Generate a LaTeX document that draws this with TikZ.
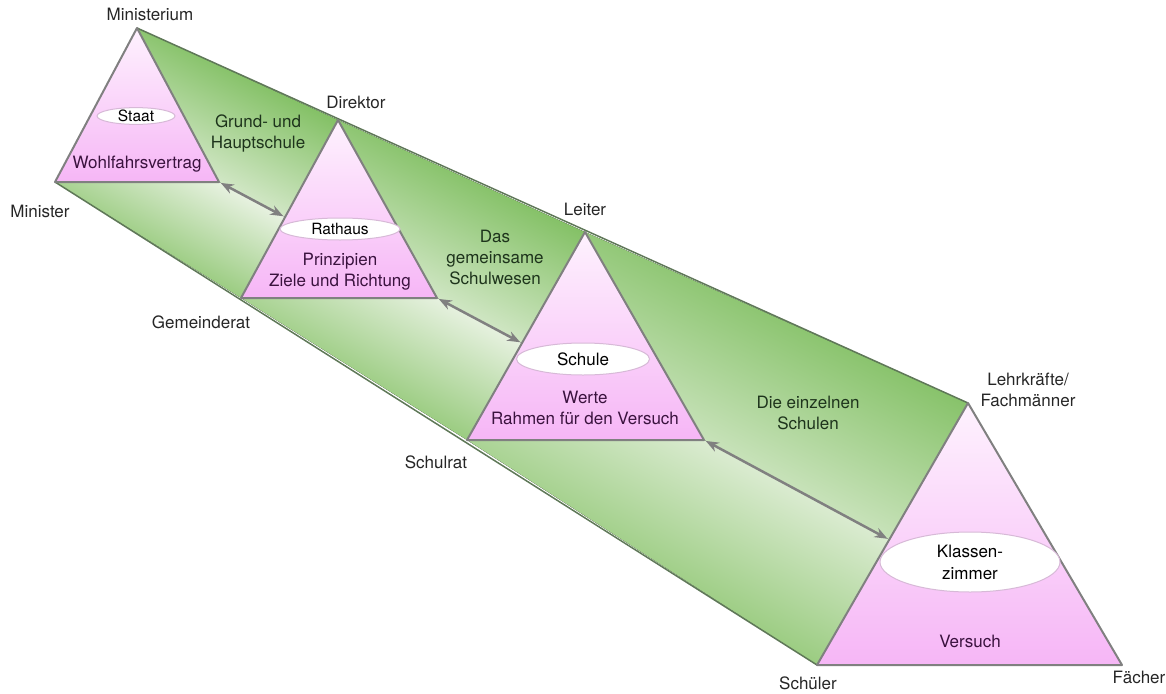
\documentclass[tikz,border=0pt]{standalone}
\usepackage{fontspec}
\setmainfont{TeX Gyre Heros}
\usetikzlibrary{arrows.meta,shapes.geometric}
\definecolor{banddark}{RGB}{98,176,60}
\definecolor{bandlight}{RGB}{234,243,228}
\definecolor{lowdark}{RGB}{106,180,68}
\definecolor{edgegreen}{RGB}{95,120,88}
\definecolor{pinktop}{RGB}{254,242,254}
\definecolor{pinkbot}{RGB}{246,182,246}
\definecolor{ovalline}{RGB}{215,185,215}
\definecolor{greentext}{RGB}{30,52,28}
\definecolor{pinktext}{RGB}{58,18,62}
\begin{document}
\begin{tikzpicture}[x=1pt,y=-1pt,>={Stealth[length=13pt,width=10pt]},
  upper/.style={top color=banddark,bottom color=bandlight,shading angle=-28},
  lower/.style={top color=bandlight,bottom color=lowdark,shading angle=-28},
  tri/.style={draw=gray,line width=2pt,line join=round,top color=pinktop,bottom color=pinkbot},
  oval/.style={ellipse,draw=ovalline,line width=1pt,fill=white,inner sep=0pt},
  lbl/.style={font=\fontsize{17}{21}\selectfont,text=black!85,align=center},
  bandtxt/.style={lbl,text=greentext},
  tritxt/.style={lbl,text=pinktext},
  link/.style={<->,draw=gray,line width=2.5pt,shorten <=2pt,shorten >=2pt}]
  \useasboundingbox (0,0) rectangle (1166,693);
  % corners: apex, base left, base right
  \coordinate (A1) at (137,28);  \coordinate (L1) at (55,182);  \coordinate (R1) at (219,182);
  \coordinate (A2) at (338,120); \coordinate (L2) at (241,298); \coordinate (R2) at (437,298);
  \coordinate (A3) at (585,232); \coordinate (L3) at (467,440); \coordinate (R3) at (704,440);
  \coordinate (A4) at (968,403); \coordinate (L4) at (817,665); \coordinate (R4) at (1122,665);
  % where the base line meets the next triangle
  \coordinate (P2) at (intersection of R1--R2 and A2--L2);
  \coordinate (P3) at (intersection of R2--R3 and A3--L3);
  \coordinate (P4) at (intersection of R3--R4 and A4--L4);
  % green bands between the triangles
  \foreach \i/\j in {1/2,2/3,3/4} {
    \fill [upper] (A\i) -- (A\j) -- (P\j) -- (R\i) -- cycle;
    \fill [lower] (R\i) -- (P\j) -- (L\j) -- (L\i) -- cycle;
  }
  \draw [edgegreen,line width=1.5pt] (A1) -- (A4);
  \draw [edgegreen,line width=1.5pt] (L1) -- (L4);
  \foreach \i in {1,...,4}
    \draw [tri] (A\i) -- (R\i) -- (L\i) -- cycle;
  % links
  \draw [link] (R1) -- (P2);
  \draw [link] (R2) -- (P3);
  \draw [link] (R3) -- (P4);
  % ovals and texts in the triangles
  \node [oval,minimum width=78,minimum height=16,font=\fontsize{15.5}{18}\selectfont] (staat) at (136,116) {Staat};
  \node [tritxt] (wohlfahrt) at (137,164) {Wohlfahrsvertrag};
  \node [oval,minimum width=120,minimum height=22,font=\fontsize{15.5}{18}\selectfont] (rathaus) at (340,229) {Rathaus};
  \node [tritxt] (prinzipien) at (340,272) {Prinzipien\\Ziele und Richtung};
  \node [oval,minimum width=133,minimum height=32,font=\fontsize{17}{21}\selectfont] (schule) at (583,359) {Schule};
  \node [tritxt] (werte) at (585,408) {Werte\\Rahmen für den Versuch};
  \node [oval,minimum width=180,minimum height=60,align=center,font=\fontsize{17}{22}\selectfont] (klasse) at (970,562) {Klassen-\\zimmer};
  \node [tritxt] (versuch) at (970,641) {Versuch};
  % texts on the bands
  \node [bandtxt] (grund) at (258,134) {Grund- und\\Hauptschule};
  \node [bandtxt] (gemeinsam) at (495,257) {Das\\gemeinsame\\Schulwesen};
  \node [bandtxt] (einzeln) at (808,413) {Die einzelnen\\Schulen};
  % corner labels
  \node [lbl] (ministerium) at (150,14) {Ministerium};
  \node [lbl] (minister) at (40,211) {Minister};
  \node [lbl] (direktor) at (356,102) {Direktor};
  \node [lbl] (gemeinderat) at (201,322) {Gemeinderat};
  \node [lbl] (leiter) at (585,209) {Leiter};
  \node [lbl] (schulrat) at (436,462) {Schulrat};
  \node [lbl] (lehrkraft) at (1028,390) {Lehrkräfte/\\Fachmänner};
  \node [lbl] (schueler) at (808,683) {Schüler};
  \node [lbl] (faecher) at (1139,677) {Fächer};
\end{tikzpicture}
\end{document}
